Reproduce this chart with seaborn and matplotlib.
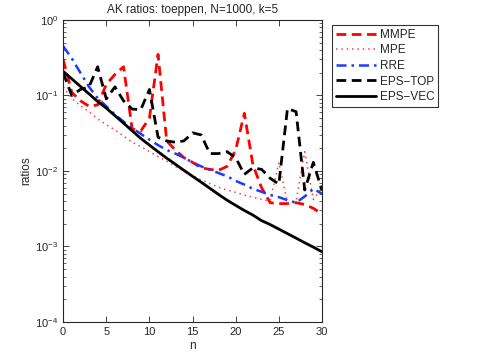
import numpy as np
import pandas as pd
import matplotlib
matplotlib.use("Agg")
import matplotlib.pyplot as plt
import seaborn as sns
from matplotlib.ticker import LogLocator, NullFormatter

# === 1. Data (ratios vs n) ===
n = list(range(31))

mmpe = [0.30, 0.11, 0.085, 0.072, 0.075, 0.14, 0.19, 0.24, 0.036, 0.034,
        0.050, 0.35, 0.025, 0.019, 0.015, 0.013, 0.011, 0.0105, 0.0102, 0.0115,
        0.019, 0.058, 0.012, 0.006, 0.0038, 0.0037, 0.0037, 0.0038, 0.0036, 0.0032,
        0.0027]

mpe = [0.13, 0.091, 0.073, 0.061, 0.049, 0.041, 0.035, 0.029, 0.024, 0.021,
       0.018, 0.0155, 0.0135, 0.0115, 0.0099, 0.0086, 0.0076, 0.0068, 0.0061, 0.0056,
       0.0052, 0.0048, 0.0045, 0.0042, 0.0040, 0.013, 0.0038, 0.0040, 0.018, 0.0042,
       0.0060]

rre = [0.45, 0.31, 0.20, 0.13, 0.092, 0.072, 0.056, 0.045, 0.037, 0.031,
       0.026, 0.022, 0.019, 0.017, 0.015, 0.013, 0.0115, 0.0104, 0.0094, 0.0085,
       0.0074, 0.0066, 0.0058, 0.0053, 0.0048, 0.0045, 0.0041, 0.0038, 0.0046, 0.0058,
       0.0050]

eps_top = [0.20, 0.10, 0.12, 0.13, 0.24, 0.09, 0.13, 0.085, 0.066, 0.065,
           0.12, 0.028, 0.025, 0.024, 0.025, 0.032, 0.030, 0.017, 0.017, 0.018,
           0.015, 0.009, 0.011, 0.0105, 0.008, 0.0067, 0.067, 0.061, 0.0056, 0.013,
           0.0055]

eps_vec = [0.209, 0.166, 0.132, 0.105, 0.083, 0.068, 0.054, 0.043, 0.034, 0.027,
           0.022, 0.018, 0.0148, 0.0123, 0.0102, 0.0085, 0.0071, 0.0059, 0.0049, 0.0041,
           0.0035, 0.0030, 0.0026, 0.0022, 0.00195, 0.0017, 0.00148, 0.00129, 0.00112, 0.00098,
           0.00085]

# === 2. Style ===
sns.set_style("ticks")
plt.rcParams["font.family"] = ["Liberation Sans", "DejaVu Sans"]
plt.rcParams["mathtext.fontset"] = "custom"
plt.rcParams["mathtext.rm"] = "Liberation Sans"

fig = plt.figure(figsize=(4.82, 3.63), dpi=100)
ax = fig.add_axes([0.131, 0.113, 0.537, 0.832])

series = [
    ("MMPE", mmpe, "#ff0000", (0, (3.5, 2)), 2.0),
    ("MPE", mpe, "#ff4040", (0, (1, 2.5)), 1.1),
    ("RRE", rre, "#1a3cff", (0, (4, 2, 1, 2)), 1.8),
    ("EPS\u2212TOP", eps_top, "black", (0, (3.5, 2)), 2.0),
    ("EPS\u2212VEC", eps_vec, "black", "-", 2.0),
]

for name, vals, col, ls, lw in series:
    sns.lineplot(x=n, y=vals, ax=ax, color=col, linestyle=ls, linewidth=lw, label=name)

# === 3. Axes ===
ax.set_yscale("log")
ax.set_xlim(0, 30)
ax.set_ylim(1e-4, 1)
ax.set_xticks(range(0, 31, 5))
ax.yaxis.set_major_locator(LogLocator(base=10, numticks=10))
ax.yaxis.set_minor_locator(LogLocator(base=10, subs=np.arange(2, 10), numticks=10))
ax.yaxis.set_minor_formatter(NullFormatter())
ax.tick_params(which="both", direction="in", top=True, right=True, labelsize=8)
ax.tick_params(which="major", length=4, width=0.6)
ax.tick_params(which="minor", length=2, width=0.5)
for sp in ax.spines.values():
    sp.set_linewidth(0.8)

ax.set_title("AK ratios: toeppen, N=1000, k=5", fontsize=8.5, pad=5)
ax.set_xlabel("n", fontsize=8.5, labelpad=2)
ax.set_ylabel("ratios", fontsize=8.5, labelpad=2)

leg = ax.legend(loc="upper left", bbox_to_anchor=(1.04, 0.982), borderaxespad=0,
                fontsize=8.5, frameon=True, fancybox=False, handlelength=3.4,
                handletextpad=0.3, labelspacing=0.3, borderpad=0.3)
leg.get_frame().set_edgecolor("black")
leg.get_frame().set_linewidth(0.8)

fig.savefig("out.png", dpi=100)
